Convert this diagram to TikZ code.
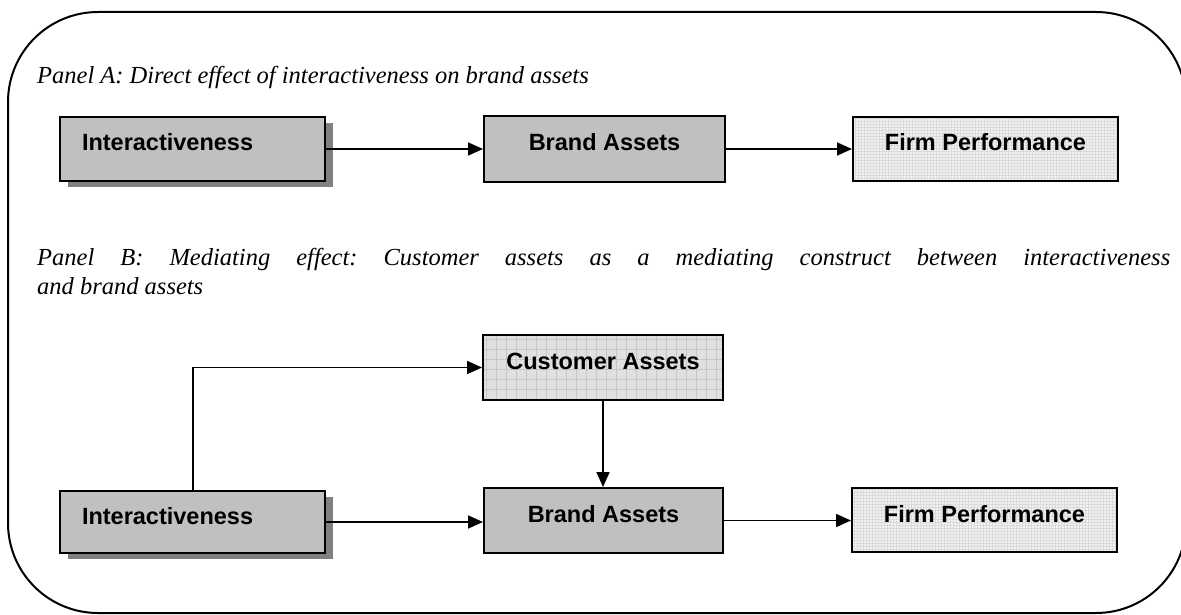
\documentclass[tikz,border=0pt]{standalone}
\usepackage{fontspec}
\setmainfont{Liberation Serif}
\setsansfont{Liberation Sans}
\usetikzlibrary{arrows.meta,shadows}
\definecolor{boxgray}{HTML}{C0C0C0}
\definecolor{shadowgray}{HTML}{808080}
\frenchspacing
\begin{document}
\begin{tikzpicture}[x=1pt,y=-1pt,
  basebox/.style={draw=black, line width=2pt, inner sep=0pt,
    font=\sffamily\bfseries\fontsize{23.5}{28}\selectfont,
    text height=13pt, text depth=9pt, align=center,
    minimum width=265pt, minimum height=64pt},
  greybox/.style={basebox, fill=boxgray},
  shadowed/.style={drop shadow={shadow xshift=8pt, shadow yshift=-6pt, fill=shadowgray, opacity=1}},
  lefttext/.style={inner xsep=22pt, text width=221pt, align=left},
  firmbox/.style={basebox, fill=black!5,
    path picture={\draw[black!14, line width=0.3pt] (path picture bounding box.south west) grid[step=3pt] (path picture bounding box.north east);}},
  custbox/.style={basebox, fill=black!12,
    path picture={\draw[black!22, line width=0.5pt] (path picture bounding box.south west) grid[step=10pt] (path picture bounding box.north east);}},
  conn/.style={line width=1.7pt, -{Triangle[length=15pt,width=13pt]}},
  ptext/.style={inner sep=0pt, font=\itshape\fontsize{24.5}{29}\selectfont}
]
\useasboundingbox (0,0) rectangle (1181,615);
\clip (0,0) rectangle (1181,615);
\draw[line width=2pt, rounded corners=90pt] (8,12) rectangle (1186,613);

% Panel A
\node[ptext, anchor=base west] (pa) at (37,84) {Panel A: Direct effect of interactiveness on brand assets};
\node[greybox, shadowed, lefttext] (intA) at (192.5,149) {Interactiveness};
\node[greybox, minimum width=241pt, minimum height=66pt] (brandA) at (604.5,149) {Brand Assets};
\node[firmbox] (firmA) at (985.5,149) {Firm Performance};
\draw[conn] (intA.east) -- (brandA.west);
\draw[conn] (brandA.east) -- (firmA.west);

% Panel B
\node[ptext, anchor=north west, text width=1133pt, align=justify] (pb) at (37,248)
  {Panel B: Mediating effect: Customer assets as a mediating construct between interactiveness\linebreak and brand assets};
\node[custbox, minimum width=240pt, minimum height=65pt] (custB) at (603,367.5) {Customer Assets};
\node[greybox, shadowed, lefttext, minimum height=62pt] (intB) at (192.5,522) {Interactiveness};
\node[greybox, minimum width=239pt, minimum height=65pt] (brandB) at (603.5,520.5) {Brand Assets};
\node[firmbox] (firmB) at (984.5,520) {Firm Performance};
\draw[conn] (intB.north -| 193,0) |- (custB.west);
\draw[conn] (custB.south) -- (custB.south |- brandB.north);
\draw[conn] (intB.east) -- (intB.east -| brandB.west);
\draw[conn] (brandB.east) -- (brandB.east -| firmB.west);
\end{tikzpicture}
\end{document}
